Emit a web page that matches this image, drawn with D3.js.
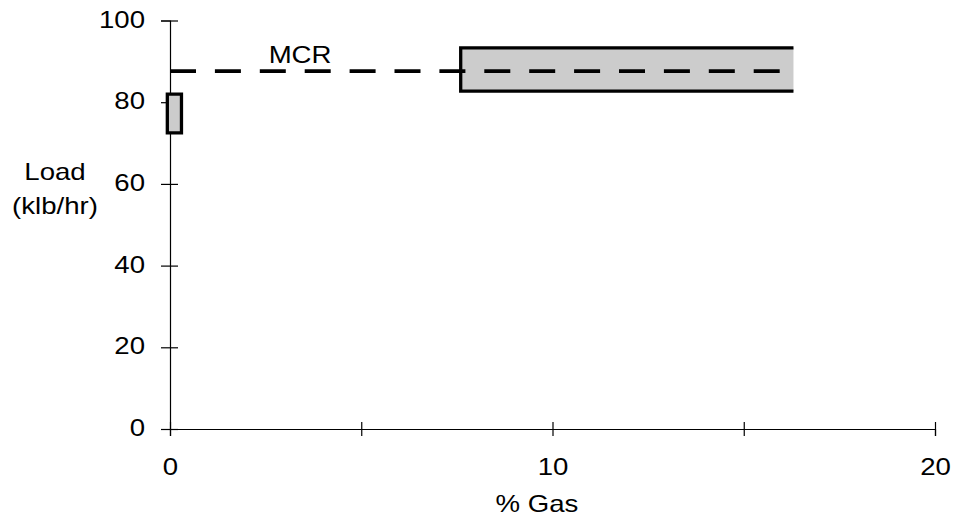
<!DOCTYPE html>
<html>
<head>
<meta charset="utf-8">
<script src="https://cdn.jsdelivr.net/npm/d3@7"></script>
<style>
  html, body { margin: 0; padding: 0; background: #fff; }
  svg { display: block; }
  text { font-family: "Liberation Sans", Arial, sans-serif; fill: #000; }
</style>
</head>
<body>
<svg id="chart" width="956" height="525"></svg>
<script>
// ---- data ----
const xTicks = [0, 5, 10, 15, 20];
const xTickLabels = ["0", "", "10", "", "20"];
const yTicks = [0, 20, 40, 60, 80, 100];
const yTickLabels = ["0", "20", "40", "60", "80", "100"];
const boxNames = ["low", "high"];
const boxGasMin = [-0.07, 7.6];
const boxGasMax = [0.3, 16.3];
const boxLoadMin = [72.5, 82.7];
const boxLoadMax = [82.0, 93.3];
const boxRightEdge = [true, false];
const mcrLoad = 87.6;
const mcrGasRange = [0, 16.3];
const mcrLabel = "MCR";
const xTitle = "% Gas";
const yTitle = ["Load", "(klb/hr)"];

// ---- layout ----
const SX = 1.2;      // horizontal text stretch
const FS = 23;
const svg = d3.select("#chart");
const x = d3.scaleLinear().domain([0, 20]).range([170, 935]);
const y = d3.scaleLinear().domain([0, 100]).range([429, 20.5]);

// boxes
const boxes = boxNames.map((n, i) => ({
  x0: boxGasMin[i], x1: boxGasMax[i], y0: boxLoadMin[i], y1: boxLoadMax[i], right: boxRightEdge[i]
}));
const g = svg.append("g");
g.selectAll("rect.box").data(boxes).join("rect")
  .attr("class", "box")
  .attr("x", d => x(d.x0))
  .attr("y", d => y(d.y1))
  .attr("width", d => x(d.x1) - x(d.x0))
  .attr("height", d => y(d.y0) - y(d.y1))
  .attr("fill", "#cccccc");

// axes
const yAxis = d3.axisLeft(y).tickValues(yTicks)
  .tickFormat((d, i) => yTickLabels[i]).tickSizeOuter(0).tickSize(9);
const ya = svg.append("g").attr("transform", `translate(${x(0)},0)`).call(yAxis);
ya.select(".domain").attr("stroke", "#000").attr("stroke-width", 1.2);
ya.selectAll(".tick line").attr("x1", -9).attr("x2", 8).attr("stroke", "#000").attr("stroke-width", 1.2);
ya.selectAll(".tick text")
  .attr("x", null).attr("dy", null)
  .attr("text-anchor", "end")
  .attr("transform", "translate(-25,6.5) scale(" + SX + ",1)")
  .style("font-size", FS + "px")
  .style("font-family", "'Liberation Sans', Arial, sans-serif");

const xAxis = d3.axisBottom(x).tickValues(xTicks)
  .tickFormat((d, i) => xTickLabels[i]).tickSizeOuter(0).tickSize(7);
const xa = svg.append("g").attr("transform", `translate(0,${y(0)})`).call(xAxis);
xa.select(".domain").attr("stroke", "#000").attr("stroke-width", 1.2);
xa.selectAll(".tick line").attr("y1", -7).attr("y2", 7).attr("stroke", "#000").attr("stroke-width", 1.2);
xa.selectAll(".tick text")
  .attr("y", null).attr("dy", null)
  .attr("text-anchor", "middle")
  .attr("transform", "translate(0,46) scale(" + SX + ",1)")
  .style("font-size", FS + "px")
  .style("font-family", "'Liberation Sans', Arial, sans-serif");

// box outlines
g.raise();
g.selectAll("path.outline").data(boxes).join("path")
  .attr("class", "outline")
  .attr("fill", "none")
  .attr("stroke", "#000")
  .attr("stroke-width", 3.3)
  .attr("d", d => {
    const p = d3.path();
    if (d.right) {
      p.rect(x(d.x0), y(d.y1), x(d.x1) - x(d.x0), y(d.y0) - y(d.y1));
    } else {
      p.moveTo(x(d.x1), y(d.y1));
      p.lineTo(x(d.x0), y(d.y1));
      p.lineTo(x(d.x0), y(d.y0));
      p.lineTo(x(d.x1), y(d.y0));
    }
    return p.toString();
  });

// MCR line
svg.append("line")
  .attr("x1", x(mcrGasRange[0])).attr("x2", x(mcrGasRange[1]))
  .attr("y1", y(mcrLoad)).attr("y2", y(mcrLoad))
  .attr("stroke", "#000").attr("stroke-width", 3.8)
  .attr("stroke-dasharray", "26,18.9");

function stretchedText(px, py, str, anchor) {
  svg.append("text")
    .attr("transform", `translate(${px},${py}) scale(${SX},1)`)
    .attr("text-anchor", anchor)
    .style("font-size", FS + "px")
    .text(str);
}
stretchedText(x(3.4), y(mcrLoad) - 8.5, mcrLabel, "middle");
stretchedText(55, 180, yTitle[0], "middle");
stretchedText(55, 214, yTitle[1], "middle");
stretchedText(537, 512, xTitle, "middle");
</script>
</body>
</html>
